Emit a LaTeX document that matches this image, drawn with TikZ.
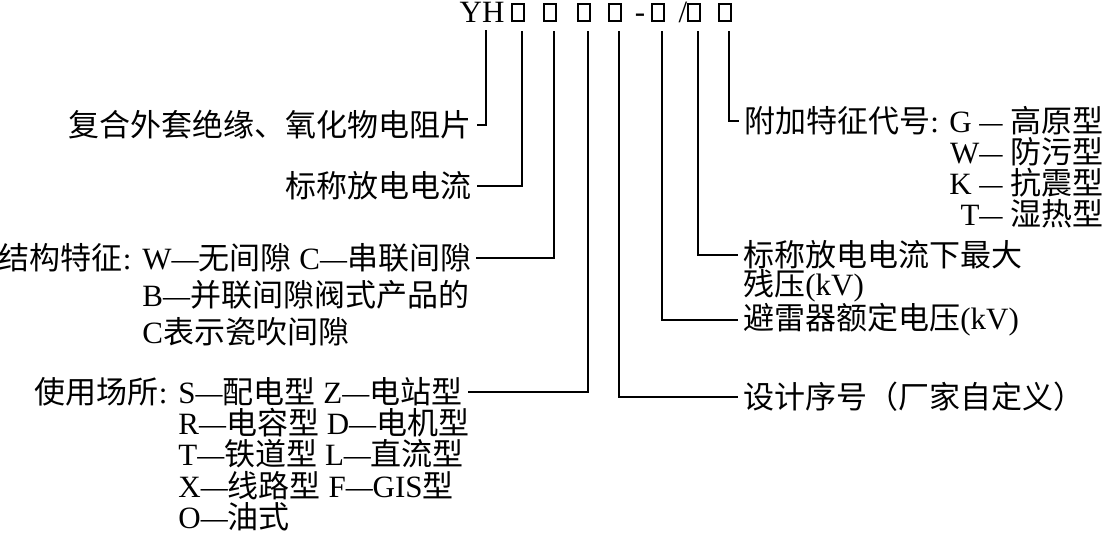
\documentclass[tikz,border=0pt]{standalone}
\usepackage{graphicx}
\usepackage{fontspec}
\setmainfont{Liberation Serif}
\newfontfamily\cjk{Noto Sans CJK SC}
\usetikzlibrary{calc,positioning}
\newcommand{\zh}[1]{{\cjk #1}}
\newcommand{\dd}[1][0.87]{\scalebox{#1}[1]{—}}
\tikzset{
  codebox/.style={draw,line width=1pt,minimum width=5.8pt,minimum height=8.5pt,inner sep=0pt},
  leadline/.style={line width=1pt},
  lab/.style={font=\fontsize{15.5}{18}\selectfont,inner xsep=2.5pt,inner ysep=0pt},
}
\newcommand{\leadL}[2]{\draw[leadline] ($(#1.south)+(4,9)$) |- (#2.east);}
\newcommand{\leadR}[2]{\draw[leadline] ($(#1.south)+(4,9)$) |- (#2.west);}

\begin{document}
\begin{tikzpicture}[x=0.5pt,y=-0.5pt]
        \useasboundingbox (0,0) rectangle (1102,537);
        % model code
        \node[lab,anchor=base] (yh) at (482,22.5) {YH};
        \foreach \n/\x in {1/518,2/550,3/584,4/615,5/658,6/694,7/725}
          \node[codebox] (b\n) at (\x,12.5) {};
        \node[lab,anchor=base] (dsh) at (640,22.5) {-};
        \node[lab,anchor=base] (sl) at (683,22.5) {/};
        % left side
        \node[lab,anchor=east] (ins) at (477,125) {\zh{复合外套绝缘、氧化物电阻片}};
        \node[lab,anchor=east] (cur) at (477,186) {\zh{标称放电电流}};
        \node[lab,anchor=west] (gap) at (137,258) {W\dd\zh{无间隙} C\dd\zh{串联间隙}};
        \node[lab,anchor=east] (gapt) at (gap.west) {\zh{结构特征}:};
        \node[lab,anchor=west] (gapb) at ($(gap.west)+(0,37)$) {B\dd\zh{并联间隙阀式产品的}};
        \node[lab,anchor=west] (gapc) at ($(gap.west)+(0,74)$) {C\zh{表示瓷吹间隙}};
        \node[lab,anchor=west] (use) at (173,392) {S\dd\zh{配电型} Z\dd\zh{电站型}};
        \node[lab,anchor=east] (uset) at (use.west) {\zh{使用场所}:};
        \node[lab,anchor=west] (useb) at ($(use.west)+(0,31)$) {R\dd\zh{电容型} D\dd\zh{电机型}};
        \node[lab,anchor=west] (usec) at ($(use.west)+(0,62)$) {T\dd\zh{铁道型} L\dd\zh{直流型}};
        \node[lab,anchor=west] (used) at ($(use.west)+(0,94)$) {X\dd\zh{线路型} F\dd GIS\zh{型}};
        \node[lab,anchor=west] (usee) at ($(use.west)+(0,125)$) {O\dd\zh{油式}};
        % right side
        \node[lab,anchor=west] (add) at (739,121) {\zh{附加特征代号}: G \dd[0.75]\ \zh{高原型}};
        \node[lab,anchor=east] (addb) at ($(add.east)+(0,31)$) {W\dd[0.75]\ \zh{防污型}};
        \node[lab,anchor=east] (addc) at ($(add.east)+(0,62)$) {K \dd[0.75]\ \zh{抗震型}};
        \node[lab,anchor=east] (addd) at ($(add.east)+(0,93)$) {T\dd[0.75]\ \zh{湿热型}};
        \node[lab,anchor=west] (res) at (738,255) {\zh{标称放电电流下最大}};
        \node[lab,anchor=west] (resb) at (738,286) {\zh{残压}(kV)};
        \node[lab,anchor=west] (rat) at (738,320) {\zh{避雷器额定电压}(kV)};
        \node[lab,anchor=west] (des) at (738,397) {\zh{设计序号（厂家自定义）}};
        % leaders
        \draw[leadline] ($(yh.south)+(4,7.5)$) |- (ins.east);
        \leadL{b1}{cur}\leadL{b2}{gap}\leadL{b3}{use}
        \leadR{b4}{des}\leadR{b5}{rat}\leadR{b6}{res}\leadR{b7}{add}
      \end{tikzpicture}
\end{document}
